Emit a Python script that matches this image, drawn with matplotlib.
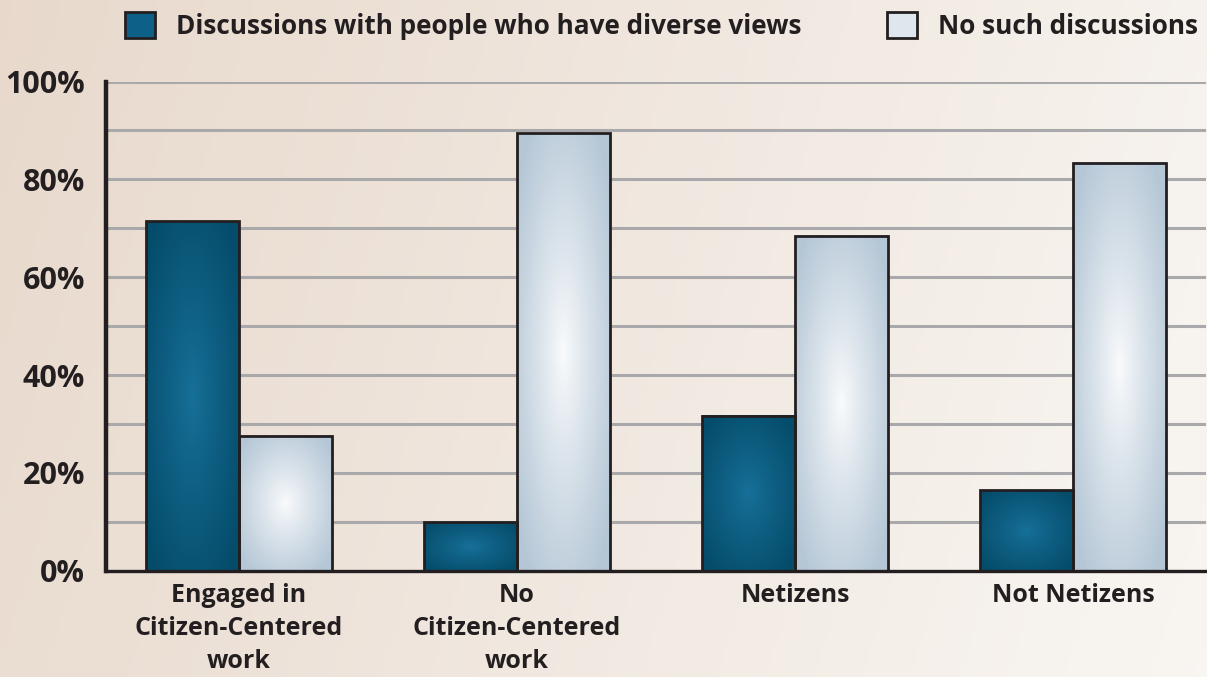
import numpy as np
import matplotlib
matplotlib.use("Agg")
import matplotlib.pyplot as plt
from matplotlib.patches import Patch

plt.rcParams['font.family'] = ['Open Sans', 'DejaVu Sans']
plt.rcParams['font.weight'] = 'bold'

# data
groups = ["Engaged in\nCitizen-Centered\nwork", "No\nCitizen-Centered\nwork",
          "Netizens", "Not Netizens"]
series_names = ["Discussions with people who have diverse views", "No such discussions"]
diverse = [71.5, 10, 31.7, 16.5]
no_such = [27.6, 89.4, 68.5, 83.3]
yticks = [0, 20, 40, 60, 80, 100]
ytick_labels = ["0%", "20%", "40%", "60%", "80%", "100%"]

dark_in, dark_out = np.array([0.09, 0.44, 0.60]), np.array([0.02, 0.30, 0.42])
light_in, light_out = np.array([0.98, 0.985, 0.99]), np.array([0.71, 0.78, 0.84])
edge = "#231f20"


def radial(c_in, c_out, n=120):
    u = np.linspace(-1, 1, n)
    uu, vv = np.meshgrid(u, u)
    t = np.clip(np.sqrt(uu**2 + vv**2) / 1.25, 0, 1) ** 0.9
    return c_in * (1 - t[..., None]) + c_out * t[..., None]


fig = plt.figure(figsize=(12.07, 6.77), dpi=100)

# background gradient
bg = fig.add_axes([0, 0, 1, 1], zorder=-1)
xx, yy = np.meshgrid(np.linspace(0, 1, 200), np.linspace(0, 1, 200))
t = np.clip(0.85 * xx + 0.15 * (1 - yy), 0, 1)
left_c = np.array([0.91, 0.85, 0.80])
right_c = np.array([0.975, 0.965, 0.95])
bg.imshow(left_c * (1 - t[..., None]) + right_c * t[..., None], aspect='auto',
          extent=(0, 1, 0, 1), origin='lower')
bg.axis('off')

ax = fig.add_axes([106 / 1207, 1 - 570.7 / 677, 1100 / 1207, (570.7 - 81.5) / 677])
ax.set_facecolor('none')

x = np.arange(len(groups))
w = 0.333
bars1 = ax.bar(x - w / 2, diverse, w, facecolor='none', edgecolor=edge, linewidth=2, zorder=3)
bars2 = ax.bar(x + w / 2, no_such, w, facecolor='none', edgecolor=edge, linewidth=2, zorder=3)

for bars, ci, co in [(bars1, dark_in, dark_out), (bars2, light_in, light_out)]:
    img = radial(ci, co)
    for b in bars:
        x0, y0 = b.get_x(), b.get_y()
        ax.imshow(img, extent=(x0, x0 + b.get_width(), y0, y0 + b.get_height()),
                  aspect='auto', zorder=2, origin='lower')

ax.set_xlim(-0.478, 3.478)
ax.set_ylim(0, 100)
ax.set_yticks(yticks)
ax.set_yticklabels(ytick_labels, fontsize=22, color=edge)
ax.set_yticks(np.arange(0, 101, 10), minor=True)
ax.yaxis.grid(True, which='both', color='#a9a9ab', linewidth=2.2, zorder=0)
ax.set_axisbelow(True)
ax.set_xticks(x)
ax.set_xticklabels(groups, fontsize=18, color=edge, linespacing=1.42)
ax.tick_params(axis='both', which='both', length=0)
ax.tick_params(axis='y', pad=15)
ax.tick_params(axis='x', pad=9)

for s in ['top', 'right']:
    ax.spines[s].set_visible(False)
ax.spines['left'].set_linewidth(3.2)
ax.spines['left'].set_color(edge)
ax.spines['bottom'].set_linewidth(2.4)
ax.spines['bottom'].set_color(edge)

handles = [Patch(facecolor="#0d6088", edgecolor=edge, linewidth=2),
           Patch(facecolor="#dfe6ed", edgecolor=edge, linewidth=2)]
fig.legend(handles, series_names, loc='center', bbox_to_anchor=(0.548, 0.962),
           ncol=2, frameon=False, fontsize=18.8, handlelength=1.15, handleheight=1.15,
           handletextpad=0.8, columnspacing=3.3, labelcolor=edge)

fig.savefig("out.png", dpi=100)
